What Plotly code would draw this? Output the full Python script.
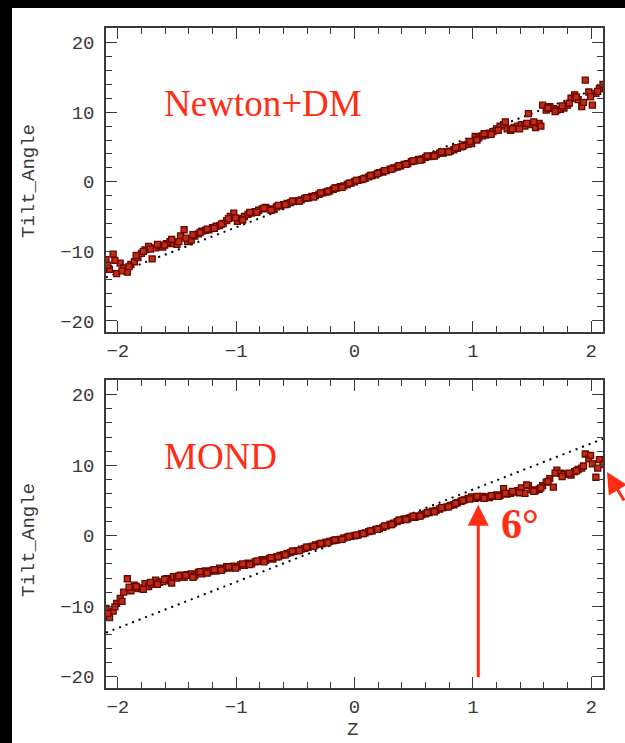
import plotly.graph_objects as go

# ---------------- data ----------------
z = [-2.10, -2.07, -2.04, -2.01, -1.98, -1.95, -1.92, -1.89, -1.86, -1.83,
     -1.80, -1.77, -1.74, -1.71, -1.68, -1.65, -1.62, -1.59, -1.56, -1.53,
     -1.50, -1.47, -1.44, -1.41, -1.38, -1.35, -1.32, -1.29, -1.26, -1.23,
     -1.20, -1.17, -1.14, -1.11, -1.08, -1.05, -1.02, -0.99, -0.96, -0.93,
     -0.90, -0.87, -0.84, -0.81, -0.78, -0.75, -0.72, -0.69, -0.66, -0.63,
     -0.60, -0.57, -0.54, -0.51, -0.48, -0.45, -0.42, -0.39, -0.36, -0.33,
     -0.30, -0.27, -0.24, -0.21, -0.18, -0.15, -0.12, -0.09, -0.06, -0.03,
     0.00, 0.03, 0.06, 0.09, 0.12, 0.15, 0.18, 0.21, 0.24, 0.27,
     0.30, 0.33, 0.36, 0.39, 0.42, 0.45, 0.48, 0.51, 0.54, 0.57,
     0.60, 0.63, 0.66, 0.69, 0.72, 0.75, 0.78, 0.81, 0.84, 0.87,
     0.90, 0.93, 0.96, 0.99, 1.02, 1.05, 1.08, 1.11, 1.14, 1.17,
     1.20, 1.23, 1.26, 1.29, 1.32, 1.35, 1.38, 1.41, 1.44, 1.47,
     1.50, 1.53, 1.56, 1.59, 1.62, 1.65, 1.68, 1.71, 1.74, 1.77,
     1.80, 1.83, 1.86, 1.89, 1.92, 1.95, 1.98, 2.01, 2.04, 2.07,
     2.10]

tilt_newton = [-11.2, -12.6, -10.4, -13.2, -11.7, -12.4, -13.0, -11.9, -11.5, -10.9,
               -10.3, -9.8, -9.3, -11.1, -9.5, -9.2, -9.4, -8.9, -8.6, -8.9,
               -9.0, -7.8, -6.9, -8.6, -8.4, -7.8, -7.5, -7.1, -7.0, -6.9,
               -6.6, -6.4, -6.3, -6.0, -5.6, -5.0, -4.5, -5.7, -5.3, -5.0,
               -4.7, -4.5, -4.3, -4.1, -3.9, -3.7, -3.9, -4.0, -3.6, -3.5,
               -3.3, -3.1, -3.0, -2.8, -2.8, -2.6, -2.4, -2.3, -2.1, -2.0,
               -1.8, -1.6, -1.5, -1.3, -1.1, -0.9, -0.7, -0.6, -0.4, -0.2,
               0.0, 0.2, 0.3, 0.5, 0.7, 0.9, 1.0, 1.3, 1.4, 1.6,
               1.8, 2.0, 2.1, 2.3, 2.5, 2.6, 2.9, 3.0, 3.2, 3.2,
               3.5, 3.6, 3.7, 3.9, 4.1, 4.1, 4.3, 4.4, 4.6, 4.8,
               5.0, 5.3, 5.4, 5.5, 6.5, 6.3, 6.6, 6.7, 7.0, 7.2,
               7.6, 8.0, 8.2, 7.6, 7.4, 7.8, 8.0, 8.2, 8.0, 9.8,
               8.2, 7.8, 8.4, 11.0, 10.3, 10.8, 10.5, 10.3, 10.4, 10.6,
               11.0, 12.0, 12.5, 11.8, 10.8, 14.6, 12.9, 11.0, 12.7, 13.4,
               14.0]

tilt_mond = [-10.3, -11.6, -10.7, -9.6, -8.9, -8.0, -6.1, -7.8, -7.0, -7.5,
             -7.4, -6.8, -7.2, -6.9, -6.3, -6.6, -6.5, -6.1, -6.4, -5.8,
             -6.0, -5.6, -5.9, -5.5, -5.4, -5.7, -5.2, -5.4, -5.0, -5.1,
             -4.9, -5.0, -4.6, -4.7, -4.4, -4.6, -4.3, -4.4, -4.1, -4.2,
             -3.9, -4.0, -3.7, -3.6, -3.4, -3.5, -3.2, -3.3, -3.0, -2.8,
             -2.7, -2.5, -2.4, -2.2, -2.1, -1.9, -1.8, -1.6, -1.5, -1.3,
             -1.2, -1.1, -0.9, -0.8, -0.7, -0.6, -0.5, -0.3, -0.2, -0.1,
             0.0, 0.1, 0.3, 0.4, 0.6, 0.7, 0.9, 1.0, 1.2, 1.4,
             1.6, 1.8, 2.0, 2.2, 2.4, 2.4, 2.6, 2.6, 2.8, 3.0,
             3.1, 3.3, 3.5, 3.6, 3.8, 4.0, 4.1, 4.3, 4.4, 4.7,
             4.9, 5.1, 5.3, 5.5, 5.3, 5.4, 5.6, 5.5, 5.4, 5.6,
             5.8, 5.7, 6.7, 5.9, 6.0, 6.2, 6.4, 6.8, 6.0, 7.1,
             6.5, 6.4, 6.6, 7.1, 7.6, 8.1, 6.9, 9.3, 8.9, 8.7,
             8.8, 8.6, 9.1, 9.4, 9.6, 11.6, 10.9, 10.2, 8.3, 10.8,
             10.1]

# second, interleaved set of points
z_mid = [-2.085, -2.025, -1.965, -1.905, -1.845, -1.785, -1.725, -1.665, -1.605, -1.545,
         -1.485, -1.425, -1.365, -1.305, -1.245, -1.185, -1.125, -1.065, -1.005, -0.945,
         -0.885, -0.825, -0.765, -0.705, -0.645, -0.585, -0.525, -0.465, -0.405, -0.345,
         -0.285, -0.225, -0.165, -0.105, -0.045, 0.015, 0.075, 0.135, 0.195, 0.255,
         0.315, 0.375, 0.435, 0.495, 0.555, 0.615, 0.675, 0.735, 0.795, 0.855,
         0.915, 0.975, 1.035, 1.095, 1.155, 1.215, 1.275, 1.335, 1.395, 1.455,
         1.515, 1.575, 1.635, 1.695, 1.755, 1.815, 1.875, 1.935, 1.995, 2.055]

tilt_newton_mid = [-12.0, -11.3, -12.8, -12.2, -10.6, -10.0, -9.7, -9.0, -9.1, -8.3,
                   -8.6, -8.1, -7.6, -7.3, -6.8, -6.7, -6.1, -5.3, -5.2, -5.5,
                   -4.4, -4.4, -3.8, -4.1, -3.4, -3.3, -2.8, -2.8, -2.3, -2.2,
                   -1.6, -1.4, -0.9, -0.8, -0.2, 0.2, 0.4, 0.9, 1.2, 1.6,
                   1.8, 2.3, 2.5, 3.0, 3.1, 3.7, 3.7, 4.3, 4.3, 4.9,
                   5.1, 5.8, 6.0, 6.9, 6.8, 7.4, 8.6, 7.6, 7.6, 8.4,
                   8.6, 8.0, 10.6, 10.1, 10.9, 11.3, 12.2, 11.4, 12.2, 13.0]

tilt_mond_mid = [-11.0, -10.1, -9.3, -7.3, -7.2, -7.6, -6.6, -6.9, -6.2, -6.7,
                 -5.7, -5.6, -5.9, -5.1, -5.3, -4.8, -4.9, -4.4, -4.6, -4.0,
                 -4.1, -3.6, -3.7, -3.1, -3.0, -2.7, -2.2, -2.1, -1.6, -1.5,
                 -1.1, -1.0, -0.6, -0.5, -0.1, 0.1, 0.3, 0.7, 0.9, 1.4,
                 1.6, 2.2, 2.3, 2.8, 2.8, 3.3, 3.4, 4.0, 4.1, 4.6,
                 5.0, 5.2, 5.6, 5.3, 5.7, 5.6, 6.0, 6.3, 6.1, 7.2,
                 6.3, 6.8, 7.7, 8.9, 8.4, 8.9, 9.2, 9.9, 11.4, 9.6]

ref_z = [-2.1, 2.1]
ref_tilt = [-13.75, 13.75]

x_ticks = [-2, -1, 0, 1, 2]
y_ticks = [-20, -10, 0, 10, 20]

RED = "#ff2d14"
AXC = "#3a3a3a"
FONT = "Liberation Mono"

fig = go.Figure()
mk = dict(symbol="square", size=6, color="#c22a14",
          line=dict(color="#660700", width=1.3))
panels = [("x", "y", tilt_newton, tilt_newton_mid), ("x2", "y2", tilt_mond, tilt_mond_mid)]
for xa, ya, vals, vals_mid in panels:
    fig.add_trace(go.Scatter(x=ref_z, y=ref_tilt, xaxis=xa, yaxis=ya, mode="lines",
                             line=dict(color="black", width=2, dash="2px,5px"),
                             showlegend=False, hoverinfo="skip"))
    fig.add_trace(go.Scatter(x=z, y=vals, xaxis=xa, yaxis=ya, mode="markers",
                             marker=mk, showlegend=False))
    fig.add_trace(go.Scatter(x=z_mid, y=vals_mid, xaxis=xa, yaxis=ya, mode="markers",
                             marker=mk, showlegend=False))

def xax(anchor):
    return dict(range=[-2.1, 2.1], anchor=anchor, domain=[0, 1],
                showline=True, linecolor=AXC, linewidth=1.5, mirror="allticks",
                ticks="inside", ticklen=11, tickwidth=1.3, tickcolor=AXC,
                tickvals=x_ticks, ticktext=["\u22122", "\u22121", "0", "1", "2"],
                minor=dict(ticks="inside", ticklen=6, dtick=0.2, tick0=0,
                           tickcolor=AXC, tickwidth=1.3),
                showgrid=False, zeroline=False,
                tickfont=dict(family=FONT, size=19, color="#3a3a3a"))

def yax(anchor, dom):
    return dict(range=[-21.6, 22.1], anchor=anchor, domain=dom,
                showline=True, linecolor=AXC, linewidth=1.5, mirror="allticks",
                ticks="inside", ticklen=11, tickwidth=1.3, tickcolor=AXC,
                tickvals=y_ticks, ticktext=["\u221220", "\u221210", "0", "10", "20"],
                minor=dict(ticks="inside", ticklen=6, dtick=2, tick0=0,
                           tickcolor=AXC, tickwidth=1.3),
                showgrid=False, zeroline=False, ticklabelstandoff=6,
                tickfont=dict(family=FONT, size=19, color="#3a3a3a"))

L, R, T, B = 106, 22, 28, 55
W, H = 625, 743
PW, PH = W - L - R, H - T - B

def px(xp):
    return (xp - L) / PW

def py(yp):
    return (H - B - yp) / PH

fig.update_layout(
    width=W, height=H,
    margin=dict(l=L, r=R, t=T, b=B, autoexpand=False),
    paper_bgcolor="black", plot_bgcolor="white",
    xaxis=xax("y"), yaxis=yax("x", [py(332), 1]),
    xaxis2=xax("y2"), yaxis2=yax("x2", [0, py(380)]),
    shapes=[dict(type="rect", xref="paper", yref="paper", layer="below",
                 x0=px(12), x1=px(640), y0=py(760), y1=py(8),
                 fillcolor="white", line=dict(width=0))],
)

ann = []
ann.append(dict(text="Newton+DM", x=-1.63, y=11.2, xref="x", yref="y",
                xanchor="left", yanchor="middle", showarrow=False,
                font=dict(family="Liberation Serif", size=37, color=RED)))
ann.append(dict(text="MOND", x=-1.63, y=11.2, xref="x2", yref="y2",
                xanchor="left", yanchor="middle", showarrow=False,
                font=dict(family="Liberation Serif", size=37, color=RED)))
ann.append(dict(text="<b>6°</b>", x=1.40, y=1.6, xref="x2", yref="y2",
                xanchor="center", yanchor="middle", showarrow=False,
                font=dict(family="Liberation Serif", size=42, color=RED)))
ann.append(dict(text="", x=1.046, y=4.4, xref="x2", yref="y2",
                ax=1.046, ay=-20.3, axref="x2", ayref="y2",
                showarrow=True, arrowhead=2, arrowsize=1.4, arrowwidth=3,
                arrowcolor=RED, standoff=0))
ann.append(dict(text="", x=px(607), y=py(472), xref="paper", yref="paper",
                ax=30, ay=30, showarrow=True, arrowhead=2, arrowsize=1.4,
                arrowwidth=3, arrowcolor=RED, standoff=0))
for yc in (181, 540):
    ann.append(dict(text="Tilt_Angle", x=px(29), y=py(yc), xref="paper", yref="paper",
                    textangle=-90, showarrow=False, xanchor="center", yanchor="middle",
                    font=dict(family=FONT, size=19, color="#3a3a3a")))
ann.append(dict(text="Z", x=px(352), y=py(730), xref="paper", yref="paper",
                showarrow=False, xanchor="center", yanchor="middle",
                font=dict(family=FONT, size=19, color="#3a3a3a")))
fig.update_layout(annotations=ann)

fig.write_html("out.html")
